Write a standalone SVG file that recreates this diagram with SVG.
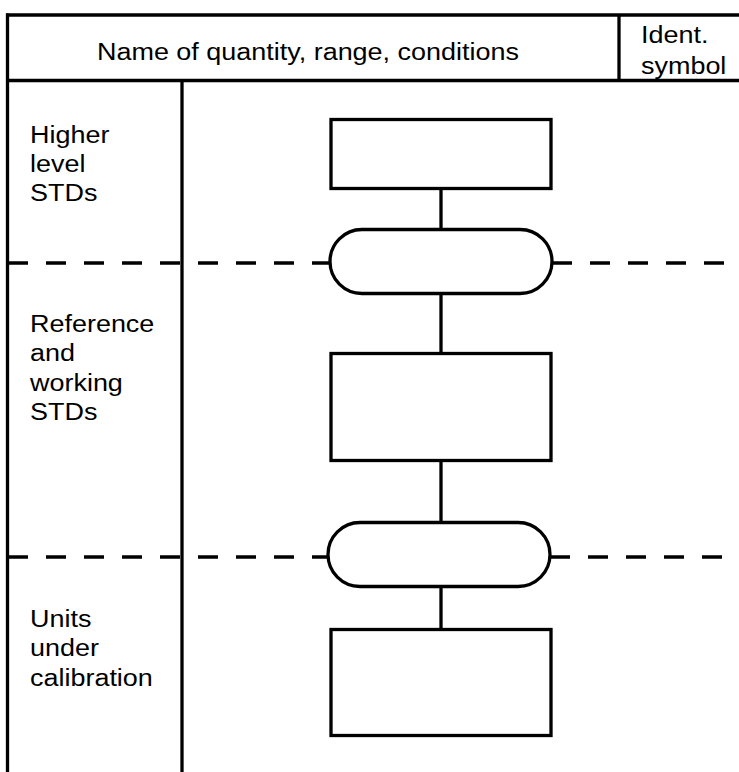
<svg xmlns="http://www.w3.org/2000/svg" width="739" height="772" viewBox="0 0 739 772">
<style>
  .ln{stroke:#000;stroke-width:3.3;fill:none}
  .box{stroke:#000;stroke-width:3.3;fill:#fff}
  .dash{stroke:#000;stroke-width:3.6;stroke-dasharray:20 18;fill:none}
  text{font-family:"Liberation Sans",Arial,Helvetica,sans-serif;font-size:24.5px;fill:#000}
</style>
<g id="table">
  <line class="ln" x1="6" y1="15" x2="739" y2="15"/>
  <line class="ln" x1="6" y1="80.5" x2="739" y2="80.5"/>
  <line class="ln" x1="7.5" y1="13.5" x2="7.5" y2="772"/>
  <line class="ln" x1="182" y1="80.5" x2="182" y2="772"/>
  <line class="ln" x1="619" y1="15" x2="619" y2="80.5"/>
  <text transform="translate(97,60) scale(1.1,1)">Name of quantity, range, conditions</text>
  <text transform="translate(641,43) scale(1.1,1)">Ident.</text>
  <text transform="translate(641,74) scale(1.1,1)">symbol</text>
</g>
<g id="levels">
  <line class="dash" x1="8" y1="263" x2="329" y2="263"/>
  <line class="dash" x1="552" y1="263" x2="739" y2="263"/>
  <line class="dash" x1="8" y1="557" x2="328" y2="557"/>
  <line class="dash" x1="550" y1="557" x2="739" y2="557"/>
</g>
<g id="label-higher">
  <text transform="translate(30,143) scale(1.1,1)">Higher<tspan x="0" dy="29">level</tspan><tspan x="0" dy="29">STDs</tspan></text>
</g>
<g id="label-reference">
  <text transform="translate(30,332) scale(1.1,1)">Reference<tspan x="0" dy="29.3">and</tspan><tspan x="0" dy="29.3">working</tspan><tspan x="0" dy="29.3">STDs</tspan></text>
</g>
<g id="label-units">
  <text transform="translate(30,627) scale(1.1,1)">Units<tspan x="0" dy="29.5">under</tspan><tspan x="0" dy="29.5">calibration</tspan></text>
</g>
<g id="connectors">
  <line class="ln" x1="441" y1="188" x2="441" y2="229"/>
  <line class="ln" x1="441" y1="293" x2="441" y2="353"/>
  <line class="ln" x1="441" y1="460" x2="441" y2="522"/>
  <line class="ln" x1="441" y1="587" x2="441" y2="629"/>
</g>
<g id="node-higher">
  <rect class="box" x="331" y="119.5" width="220" height="69"/>
</g>
<g id="node-transfer1">
  <rect class="box" x="330" y="229.5" width="222" height="64" rx="32" ry="32"/>
</g>
<g id="node-reference">
  <rect class="box" x="331" y="353.5" width="220" height="107"/>
</g>
<g id="node-transfer2">
  <rect class="box" x="328" y="522.5" width="222" height="64" rx="32" ry="32"/>
</g>
<g id="node-units">
  <rect class="box" x="331" y="629.5" width="220" height="106"/>
</g>
</svg>
